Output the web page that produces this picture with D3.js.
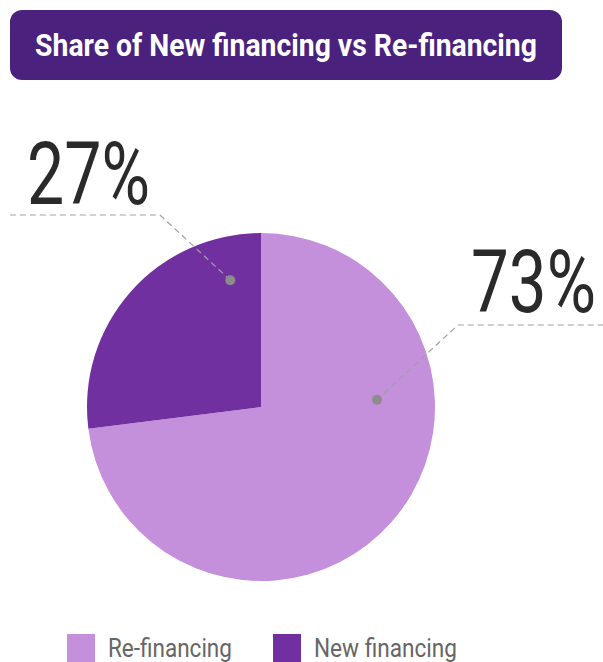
<!DOCTYPE html>
<html>
<head>
<meta charset="utf-8">
<script src="https://cdn.jsdelivr.net/npm/d3@7"></script>
<style>
  html, body { margin: 0; padding: 0; background: #fff; }
  svg { display: block; font-family: Roboto, "Noto Sans", sans-serif; }
</style>
</head>
<body>
<div id="chart"></div>
<script>
(function () {
    "use strict";

    var title = "Share of New financing vs Re-financing";
    var categories = ["Re-financing", "New financing"];
    var values = [73, 27];
    var colors = ["#c48fdb", "#7030a0"];

    var width = 603,
        height = 662,
        cx = 261,
        cy = 407,
        radius = 174;

    var svg = d3.select("#chart").append("svg")
        .attr("width", width)
        .attr("height", height);

    // condensed look: squeeze text horizontally to a target width
    function squeeze(sel, x, w, anchor) {
        var len = sel.node().getComputedTextLength();
        var k = w / len;
        sel.attr("x", 0).attr("text-anchor", anchor || "start")
            .attr("transform", "translate(" + x + "," + sel.attr("y") + ") scale(" + k + ",1)")
            .attr("y", 0);
    }

    // title box
    svg.append("rect")
        .attr("x", 10).attr("y", 10)
        .attr("width", 552).attr("height", 70)
        .attr("rx", 12)
        .attr("fill", "#4a217d");

    var t = svg.append("text")
        .attr("y", 56)
        .attr("font-size", 31)
        .attr("font-weight", 700)
        .attr("fill", "#fff")
        .text(title);
    squeeze(t, 286, 502, "middle");

    var pie = d3.pie().sort(null).value(function (d) { return d; });
    var arcs = pie(values);
    var arc = d3.arc().innerRadius(0).outerRadius(radius);

    var g = svg.append("g").attr("transform", "translate(" + cx + "," + cy + ")");

    g.selectAll("path.slice")
        .data(arcs)
        .enter().append("path")
        .attr("class", "slice")
        .attr("d", arc)
        .attr("fill", function (d, i) { return colors[i]; });

    // label layout: where the dot sits inside each slice and where the leader bends
    var labelLayout = [
        { frac: 0.329, r: 0.668, elbow: [197, -82], end: width - cx, tx: 210, ty: -95, tw: 125 },
        { frac: 0.86, r: 0.75, elbow: [-101, -192], end: 10 - cx, tx: -234, ty: -203, tw: 123 }
    ];

    arcs.forEach(function (d, i) {
        var L = labelLayout[i];
        var a = d.startAngle + (d.endAngle - d.startAngle) * L.frac;
        var px = Math.sin(a) * radius * L.r,
            py = -Math.cos(a) * radius * L.r;

        g.append("path")
            .attr("d", "M" + px + "," + py + "L" + L.elbow[0] + "," + L.elbow[1] + "L" + L.end + "," + L.elbow[1])
            .attr("fill", "none")
            .attr("stroke", "#a0a0a0")
            .attr("stroke-width", 1.2)
            .attr("stroke-dasharray", "6,4");

        g.append("circle")
            .attr("cx", px).attr("cy", py)
            .attr("r", 5)
            .attr("fill", "#8c8c8c");

        var lbl = g.append("text")
            .attr("y", L.ty)
            .attr("font-size", 87)
            .attr("font-weight", 400)
            .attr("fill", "#2a2a2a")
            .text(d3.format("d")(values[i]) + "%");
        squeeze(lbl, L.tx, L.tw, "start");
    });

    // legend
    var legendX = [67, 273];
    var lg = svg.append("g").selectAll("g")
        .data(categories)
        .enter().append("g")
        .attr("transform", function (d, i) { return "translate(" + legendX[i] + ",634)"; });

    lg.append("rect")
        .attr("width", 28).attr("height", 28)
        .attr("fill", function (d, i) { return colors[i]; });

    lg.each(function (d) {
        var tx = d3.select(this).append("text")
            .attr("y", 23)
            .attr("font-size", 25)
            .attr("fill", "#666")
            .text(d);
        squeeze(tx, 41, d === "Re-financing" ? 124 : 143, "start");
    });
})();
</script>
</body>
</html>
